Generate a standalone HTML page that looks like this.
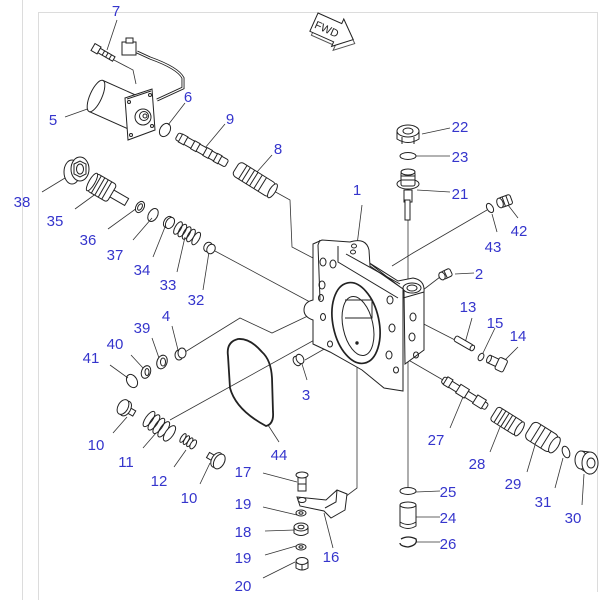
<!DOCTYPE html>
<html><head><meta charset="utf-8"><style>
html,body{margin:0;padding:0;background:#fff;}
svg{display:block;}
.l{font-family:"Liberation Sans",Arial,sans-serif;font-size:15px;fill:#3535cc;text-anchor:middle;}
</style></head><body>
<svg width="600" height="600" viewBox="0 0 600 600" xmlns="http://www.w3.org/2000/svg">
<g stroke="#dcdcdc" stroke-width="1" fill="none">
<line x1="22.5" y1="0" x2="22.5" y2="600"/>
<line x1="38.5" y1="12" x2="38.5" y2="600"/>
<line x1="38" y1="12.5" x2="598" y2="12.5"/>
<line x1="597.5" y1="12" x2="597.5" y2="592"/>
</g>

<g stroke="#333" stroke-width="0.8" fill="none">
<path d="M117,20 L107,50"/>
<path d="M65,117 L93,107"/>
<path d="M185,103 L168,125"/>
<path d="M225,124 L205,148"/>
<path d="M272,155 L257,172"/>
<path d="M42,192 L65,178"/>
<path d="M75,209 L97,193"/>
<path d="M108,229 L137,208"/>
<path d="M133,240 L152,218"/>
<path d="M153,257 L165,227"/>
<path d="M177,272 L185,237"/>
<path d="M203,290 L209,252"/>
<path d="M172,326 L178,350"/>
<path d="M152,338 L159,358"/>
<path d="M131,355 L143,368"/>
<path d="M110,365 L128,378"/>
<path d="M113,433 L127,417"/>
<path d="M143,448 L156,433"/>
<path d="M174,467 L186,450"/>
<path d="M200,484 L210,463"/>
<path d="M279,442 L268,425"/>
<path d="M263,473 L297,482"/>
<path d="M263,507 L297,515"/>
<path d="M265,531 L295,530"/>
<path d="M265,555 L296,546"/>
<path d="M263,578 L295,562"/>
<path d="M333,548 L324,513"/>
<path d="M422,134 L450,128"/>
<path d="M416,156 L450,156"/>
<path d="M417,190 L450,192"/>
<path d="M518,218 L508,205"/>
<path d="M497,232 L492,214"/>
<path d="M455,274 L474,273"/>
<path d="M472,318 L465,343"/>
<path d="M495,328 L483,353"/>
<path d="M518,347 L503,362"/>
<path d="M307,380 L302,364"/>
<path d="M450,428 L463,397"/>
<path d="M490,452 L502,422"/>
<path d="M527,472 L535,445"/>
<path d="M555,488 L563,458"/>
<path d="M582,505 L584,474"/>
<path d="M416,492 L440,491"/>
<path d="M416,517 L440,517"/>
<path d="M416,542 L440,542"/>
<path d="M362,205 L357,245"/>
<path d="M272,190 L290,200 L292,247 L313,258"/>
<path d="M215,251 L310,302"/>
<path d="M185,352 L240,318 L272,333 L312,314"/>
<path d="M170,420 L318,338"/>
<path d="M305,360 L333,344"/>
<path d="M357,343 L357,488 L345,497"/>
<path d="M408,360 L408,487"/>
<path d="M408,220 L408,290"/>
<path d="M487,210 L413,253 L392,266"/>
<path d="M440,277 L423,290"/>
<path d="M455,340 L412,318"/>
<path d="M443,380 L405,358"/>
<path d="M112,59 L133,70 L136,84"/>
</g>

<g transform="translate(318,13) rotate(24)" stroke="#222" stroke-width="1" fill="#fff">
<path d="M3,3 L29,3 L29,-2 L46,13 L29,28 L29,23 L3,23 Z" fill="none" stroke="#555"/>
<path d="M0,0 L26,0 L26,-5 L43,10 L26,25 L26,20 L0,20 Z"/>
<text x="2" y="15" font-family="Liberation Sans,sans-serif" font-size="11" fill="#222" stroke="none">FWD</text>
</g>

<g stroke="#222" stroke-width="1" fill="#fff">
<g transform="translate(93,47) rotate(30)">
<rect x="0" y="-4" width="7" height="8"/>
<rect x="7" y="-2.5" width="17" height="5"/>
<line x1="12" y1="-2.5" x2="12" y2="2.5"/><line x1="16" y1="-2.5" x2="16" y2="2.5"/><line x1="20" y1="-2.5" x2="20" y2="2.5"/>
</g>
<path d="M137,52 L150,58 Q178,68 183,78 L183,88 L157,100" fill="none" stroke-width="3"/>
<path d="M137,52 L150,58 Q178,68 183,78 L183,88 L157,100" fill="none" stroke="#fff" stroke-width="1.2"/>
<rect x="122" y="42" width="14" height="13"/>
<rect x="126" y="38" width="7" height="5"/>
<g transform="translate(96,96) rotate(24)">
<rect x="0" y="-17" width="44" height="34"/>
<ellipse cx="0" cy="0" rx="6" ry="17"/>
</g>
<path d="M125,98 L152,89 L155,130 L128,140 Z"/>
<path d="M127,99 L151,91" fill="none"/>
<circle cx="143" cy="117" r="8"/>
<circle cx="144" cy="116" r="4.5"/>
<circle cx="145" cy="116" r="2"/>
<circle cx="129" cy="102" r="1.5"/><circle cx="150" cy="95" r="1.5"/><circle cx="131" cy="135" r="1.5"/><circle cx="152" cy="126" r="1.5"/>
<ellipse cx="165" cy="130" rx="5" ry="7" transform="rotate(30 165 130)" fill="none"/>
<g transform="translate(177,136) rotate(29)">
<rect x="0" y="-4" width="57" height="8" rx="2"/>
<rect x="4" y="-4.5" width="6" height="9"/><rect x="18" y="-4.5" width="6" height="9"/><rect x="32" y="-4.5" width="6" height="9"/><rect x="44" y="-4.5" width="5" height="9"/>
</g>
<g transform="translate(236,168) rotate(32)">
<rect x="0" y="-8" width="43" height="16" rx="4"/>
<line x1="8" y1="-8" x2="8" y2="8"/><line x1="12" y1="-8" x2="12" y2="8"/><line x1="17" y1="-8" x2="17" y2="8"/><line x1="21" y1="-8" x2="21" y2="8"/><line x1="26" y1="-8" x2="26" y2="8"/><line x1="31" y1="-8" x2="31" y2="8"/>
<ellipse cx="43" cy="0" rx="3" ry="8"/>
</g>
<ellipse cx="72" cy="172" rx="8" ry="12"/>
<ellipse cx="80" cy="169" rx="9" ry="12"/>
<path d="M74,164 L80,161 L86,164 L86,174 L80,177 L74,174 Z"/>
<ellipse cx="80" cy="169" rx="3.5" ry="5"/>
<g transform="translate(92,182) rotate(30)">
<rect x="22" y="-4" width="18" height="8"/>
<rect x="0" y="-10" width="23" height="20" rx="3"/>
<line x1="5" y1="-10" x2="5" y2="10"/><line x1="9" y1="-10" x2="9" y2="10"/><line x1="13" y1="-10" x2="13" y2="10"/><line x1="17" y1="-10" x2="17" y2="10"/>
<ellipse cx="0" cy="0" rx="3" ry="10"/>
</g>
<ellipse cx="140" cy="207" rx="4" ry="6" transform="rotate(30 140 207)"/>
<ellipse cx="140" cy="207" rx="2" ry="3.5" transform="rotate(30 140 207)"/>
<ellipse cx="153" cy="215" rx="4.5" ry="7" transform="rotate(30 153 215)" fill="none"/>
<ellipse cx="168" cy="222" rx="4" ry="6" transform="rotate(30 168 222)"/>
<ellipse cx="170" cy="223" rx="4" ry="6" transform="rotate(30 170 223)"/>
<g transform="translate(178,228) rotate(30)" fill="none">
<ellipse cx="0" cy="0" rx="3" ry="7"/><ellipse cx="5" cy="0" rx="3" ry="7"/><ellipse cx="10" cy="0" rx="3" ry="7"/><ellipse cx="15" cy="0" rx="3" ry="7"/><ellipse cx="21" cy="0" rx="3" ry="7" fill="#fff"/>
</g>
<ellipse cx="208" cy="247" rx="4" ry="5" transform="rotate(30 208 247)"/>
<ellipse cx="211" cy="249" rx="4" ry="5" transform="rotate(30 211 249)"/>
<ellipse cx="179" cy="355" rx="4" ry="5"/><ellipse cx="182" cy="353" rx="4" ry="5"/>
<ellipse cx="162" cy="362" rx="5" ry="7" transform="rotate(20 162 362)"/><ellipse cx="163" cy="362" rx="2.5" ry="4"/>
<ellipse cx="146" cy="372" rx="4.5" ry="6.5" transform="rotate(20 146 372)"/><ellipse cx="147" cy="372" rx="2" ry="3.5"/>
<ellipse cx="132" cy="381" rx="5" ry="7" transform="rotate(-30 132 381)" fill="none"/>
<g transform="translate(123,407) rotate(30)">
<rect x="4" y="-3" width="9" height="6"/>
<ellipse cx="3" cy="0" rx="5" ry="8"/>
<ellipse cx="0" cy="0" rx="5" ry="8"/>
</g>
<g transform="translate(149,419) rotate(35)" fill="none">
<ellipse cx="0" cy="0" rx="3.5" ry="9"/><ellipse cx="6" cy="0" rx="3.5" ry="9"/><ellipse cx="12" cy="0" rx="3.5" ry="9"/><ellipse cx="18" cy="0" rx="3.5" ry="9"/><ellipse cx="25" cy="0" rx="4" ry="9" fill="#fff"/>
</g>
<g transform="translate(183,438) rotate(32)" fill="none">
<ellipse cx="0" cy="0" rx="2" ry="5"/><ellipse cx="4" cy="0" rx="2" ry="5"/><ellipse cx="8" cy="0" rx="2" ry="5"/><ellipse cx="12" cy="0" rx="2.5" ry="5" fill="#fff"/>
</g>
<g transform="translate(208,455) rotate(30)">
<rect x="0" y="-3" width="9" height="6"/>
<ellipse cx="10" cy="0" rx="5" ry="8"/>
<ellipse cx="13" cy="0" rx="5" ry="8"/>
</g>
<path d="M238,339 Q226,342 228,356 L230,388 Q236,410 266,426 Q274,424 273,412 L272,378 Q271,360 262,352 Q250,338 238,339 Z" fill="none" stroke-width="1.8"/>
<ellipse cx="297" cy="361" rx="3.5" ry="5" transform="rotate(-30 297 361)"/><ellipse cx="300" cy="359" rx="3.5" ry="5" transform="rotate(-30 300 359)"/>

<path d="M368,262 L398,281 L413,278 Q425,280 424,292 L424,350 L405,364 L404,290 Z"/>
<path d="M313,244 L322,240 L350,242 Q366,237 369,250 L370,266 L403,289 L403,391 L384,388 L362,370 L330,352 L313,344 L313,320 Q304,317 304,310 Q304,302 313,300 Z"/>
<path d="M338,246 L338,262 L398,298" fill="none"/>
<path d="M346,254 L400,284" fill="none"/>
<path d="M320,240 L318,245 L320,300" fill="none"/>
<line x1="403" y1="298" x2="424" y2="292"/>
<ellipse cx="412" cy="288" rx="9" ry="5"/>
<ellipse cx="412" cy="288" rx="5" ry="3"/>
<ellipse cx="356" cy="323" rx="23" ry="41" transform="rotate(-12 356 323)" stroke-width="1.7"/>
<ellipse cx="358" cy="326" rx="15" ry="30" transform="rotate(-12 358 326)"/>
<path d="M345,300 L372,300 L372,318 L345,318" fill="none"/>
<g fill="none">
<ellipse cx="323" cy="262" rx="3" ry="4"/><ellipse cx="333" cy="264" rx="3" ry="4"/><ellipse cx="354" cy="246" rx="2.5" ry="2"/><ellipse cx="353" cy="252" rx="2.5" ry="2"/>
<ellipse cx="322" cy="285" rx="3" ry="4"/><ellipse cx="321" cy="298" rx="2.5" ry="3.5"/><ellipse cx="323" cy="317" rx="2.5" ry="3.5"/><ellipse cx="330" cy="344" rx="2.5" ry="3"/>
<ellipse cx="390" cy="300" rx="3" ry="4"/><ellipse cx="392" cy="328" rx="3" ry="4"/><ellipse cx="389" cy="355" rx="3" ry="4"/><ellipse cx="396" cy="370" rx="2.5" ry="3"/>
<ellipse cx="413" cy="317" rx="3" ry="4"/><ellipse cx="412" cy="337" rx="3" ry="4"/><ellipse cx="416" cy="355" rx="2.5" ry="3"/>
</g>
<circle cx="357" cy="343" r="1.2" fill="#222"/>

<path d="M298,476 L298,491 L306,491 L306,476"/>
<line x1="298" y1="484" x2="306" y2="484"/>
<ellipse cx="302" cy="475" rx="6" ry="3"/>
<path d="M297,497 L326,500 L337,490 L347,494 L345,510 L331,518 L324,511 L300,506 Z"/>
<path d="M337,490 L336,502 L325,508" fill="none"/>
<ellipse cx="302" cy="500" rx="4" ry="2.5"/>
<ellipse cx="301" cy="513" rx="5" ry="3"/><ellipse cx="301" cy="513" rx="2" ry="1.2"/>
<path d="M294,527 L294,533 Q301,538 308,533 L308,527"/>
<ellipse cx="301" cy="527" rx="7" ry="4"/><ellipse cx="301" cy="527" rx="3" ry="1.8"/>
<ellipse cx="301" cy="547" rx="5" ry="3"/><ellipse cx="301" cy="547" rx="2" ry="1.2"/>
<path d="M296,561 L296,568 Q302,572 308,568 L308,561"/>
<ellipse cx="302" cy="561" rx="6" ry="3.5"/>
<line x1="302" y1="565" x2="302" y2="570"/>

<path d="M397,131 L397,139 Q408,146 419,139 L419,131"/>
<ellipse cx="408" cy="131" rx="11" ry="6"/>
<ellipse cx="408" cy="131" rx="5" ry="3"/>
<line x1="402" y1="137" x2="402" y2="144"/><line x1="414" y1="137" x2="414" y2="144"/>
<ellipse cx="408" cy="156" rx="8" ry="3.5" fill="none"/>
<rect x="404" y="190" width="8" height="12"/>
<rect x="405" y="200" width="5" height="20"/>
<ellipse cx="408" cy="184" rx="11" ry="5"/>
<rect x="401" y="172" width="14" height="14" rx="2"/>
<line x1="401" y1="176" x2="415" y2="176"/><line x1="401" y1="180" x2="415" y2="180"/>
<ellipse cx="408" cy="172" rx="7" ry="3"/>
<g transform="translate(500,203) rotate(-20)">
<rect x="0" y="-5" width="12" height="10" rx="2"/>
<line x1="4" y1="-5" x2="4" y2="5"/><line x1="8" y1="-5" x2="8" y2="5"/>
<ellipse cx="0" cy="0" rx="3" ry="5"/>
</g>
<ellipse cx="490" cy="208" rx="3" ry="5" transform="rotate(-30 490 208)" fill="none"/>
<g transform="translate(442,276) rotate(-25)">
<rect x="0" y="-4" width="10" height="8" rx="2"/>
<line x1="4" y1="-4" x2="4" y2="4"/>
<ellipse cx="0" cy="0" rx="3" ry="4"/>
</g>
<g transform="translate(455,338) rotate(30)">
<rect x="0" y="-3" width="20" height="6" rx="2"/>
<ellipse cx="20" cy="0" rx="2" ry="3"/>
</g>
<ellipse cx="481" cy="357" rx="2.5" ry="4" transform="rotate(30 481 357)" fill="none"/>
<g transform="translate(489,359) rotate(25)">
<rect x="0" y="-4" width="10" height="8"/>
<rect x="9" y="-6.5" width="9" height="13" rx="2"/>
<ellipse cx="0" cy="0" rx="2" ry="4"/>
</g>
<g transform="translate(443,379) rotate(32)">
<rect x="0" y="-3" width="52" height="7" rx="2"/>
<rect x="3" y="-4.5" width="6" height="9"/><rect x="18" y="-5" width="10" height="10"/><rect x="38" y="-5" width="10" height="10"/>
</g>
<g transform="translate(494,413) rotate(32)">
<rect x="0" y="-8" width="30" height="16" rx="3"/>
<line x1="5" y1="-8" x2="5" y2="8"/><line x1="9" y1="-8" x2="9" y2="8"/><line x1="13" y1="-8" x2="13" y2="8"/><line x1="17" y1="-8" x2="17" y2="8"/><line x1="21" y1="-8" x2="21" y2="8"/>
<ellipse cx="30" cy="0" rx="3" ry="8"/>
</g>
<g transform="translate(529,429) rotate(32)">
<rect x="0" y="-10" width="30" height="20" rx="5"/>
<line x1="8" y1="-10" x2="8" y2="10"/><line x1="13" y1="-10" x2="13" y2="10"/><line x1="20" y1="-10" x2="20" y2="10"/>
<ellipse cx="30" cy="0" rx="4" ry="9"/>
</g>
<ellipse cx="566" cy="452" rx="3.5" ry="6" transform="rotate(-20 566 452)" fill="none"/>
<path d="M581,451 L589,452 L589,474 L581,469 Z"/>
<ellipse cx="581" cy="460" rx="6" ry="9"/>
<ellipse cx="590" cy="463" rx="8" ry="11"/>
<ellipse cx="591" cy="463" rx="4" ry="5"/>
<ellipse cx="408" cy="491" rx="8" ry="3.5" fill="none"/>
<path d="M400,505 L400,526 Q408,531 416,526 L416,505"/>
<ellipse cx="408" cy="505" rx="8" ry="3"/>
<path d="M400,522 Q408,527 416,522" fill="none"/>
<path d="M401,539 Q408,535 416,539 Q418,545 408,547 Q400,546 400,543" fill="none" stroke-width="1.3"/>
</g>

<g>
<text class="l" x="116" y="16">7</text>
<text class="l" x="53" y="125">5</text>
<text class="l" x="188" y="102">6</text>
<text class="l" x="230" y="124">9</text>
<text class="l" x="278" y="154">8</text>
<text class="l" x="22" y="207">38</text>
<text class="l" x="55" y="226">35</text>
<text class="l" x="88" y="245">36</text>
<text class="l" x="115" y="260">37</text>
<text class="l" x="142" y="275">34</text>
<text class="l" x="168" y="290">33</text>
<text class="l" x="196" y="305">32</text>
<text class="l" x="357" y="195">1</text>
<text class="l" x="460" y="132">22</text>
<text class="l" x="460" y="162">23</text>
<text class="l" x="460" y="199">21</text>
<text class="l" x="519" y="236">42</text>
<text class="l" x="493" y="252">43</text>
<text class="l" x="479" y="279">2</text>
<text class="l" x="468" y="312">13</text>
<text class="l" x="495" y="328">15</text>
<text class="l" x="518" y="341">14</text>
<text class="l" x="166" y="321">4</text>
<text class="l" x="142" y="333">39</text>
<text class="l" x="115" y="349">40</text>
<text class="l" x="91" y="363">41</text>
<text class="l" x="306" y="400">3</text>
<text class="l" x="96" y="450">10</text>
<text class="l" x="126" y="467">11</text>
<text class="l" x="159" y="486">12</text>
<text class="l" x="189" y="503">10</text>
<text class="l" x="279" y="460">44</text>
<text class="l" x="243" y="477">17</text>
<text class="l" x="243" y="509">19</text>
<text class="l" x="243" y="537">18</text>
<text class="l" x="243" y="563">19</text>
<text class="l" x="243" y="591">20</text>
<text class="l" x="331" y="562">16</text>
<text class="l" x="436" y="445">27</text>
<text class="l" x="477" y="469">28</text>
<text class="l" x="513" y="489">29</text>
<text class="l" x="543" y="507">31</text>
<text class="l" x="573" y="523">30</text>
<text class="l" x="448" y="497">25</text>
<text class="l" x="448" y="523">24</text>
<text class="l" x="448" y="549">26</text>
</g>
</svg>
</body></html>
